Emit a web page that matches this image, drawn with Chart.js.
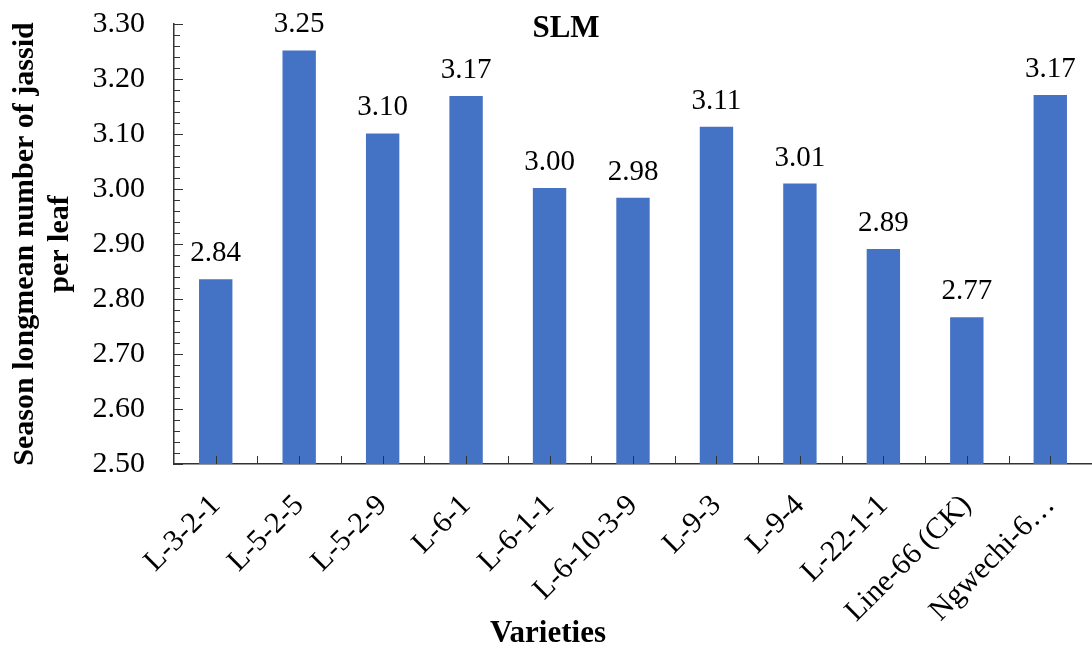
<!DOCTYPE html>
<html>
<head>
<meta charset="utf-8">
<script src="https://cdn.jsdelivr.net/npm/chart.js@4"></script>
<style>
  html, body { margin: 0; padding: 0; background: #ffffff; }
  #wrap { width: 1092px; height: 653px; position: relative; }
</style>
</head>
<body>
<div id="wrap"><canvas id="slmChart"></canvas></div>
<script>
// data
const varieties = ['L-3-2-1', 'L-5-2-5', 'L-5-2-9', 'L-6-1', 'L-6-1-1', 'L-6-10-3-9',
  'L-9-3', 'L-9-4', 'L-22-1-1', 'Line-66 (CK)', 'Ngwechi-6…'];
const jassidMeans = [2.836, 3.252, 3.101, 3.169, 3.002, 2.984, 3.113, 3.010, 2.891, 2.767, 3.171];
const yMin = 2.5;
const yMax = 3.3;
const yStep = 0.1;
const minorStep = 0.02;

const serif = "'Liberation Serif', 'Times New Roman', serif";
const axisColor = '#333333';

// value labels, SLM title, x title and inward tick marks
const extras = {
  id: 'extras',
  afterDatasetsDraw(chart) {
    const ctx = chart.ctx;
    const meta = chart.getDatasetMeta(0);
    ctx.save();
    ctx.font = '29px ' + serif;
    ctx.fillStyle = '#000';
    ctx.textAlign = 'center';
    ctx.textBaseline = 'alphabetic';
    meta.data.forEach((bar, i) => {
      ctx.fillText(jassidMeans[i].toFixed(2), bar.x, bar.y - 18);
    });
    ctx.restore();
  },
  afterDraw(chart) {
    const ctx = chart.ctx;
    const x = chart.scales.x;
    const y = chart.scales.y;
    const area = chart.chartArea;
    ctx.save();
    ctx.strokeStyle = axisColor;
    ctx.lineWidth = 1;
    ctx.beginPath();
    // y ticks, pointing into the plot
    const nMinor = Math.round((yMax - yMin) / minorStep);
    for (let i = 0; i <= nMinor; i++) {
      const v = yMin + i * minorStep;
      const py = Math.round(y.getPixelForValue(v)) + 0.5;
      const len = (i % 5 === 0) ? 9 : 6;
      ctx.moveTo(area.left, py);
      ctx.lineTo(area.left + len, py);
    }
    // x ticks at centres and between categories
    const n = varieties.length;
    for (let i = 0; i < n; i++) {
      const cx = Math.round(x.getPixelForValue(i)) + 0.5;
      ctx.moveTo(cx, area.bottom);
      ctx.lineTo(cx, area.bottom - 8);
      if (i > 0) {
        const bx = Math.round((x.getPixelForValue(i) + x.getPixelForValue(i - 1)) / 2) + 0.5;
        ctx.moveTo(bx, area.bottom);
        ctx.lineTo(bx, area.bottom - 8);
      }
    }
    ctx.stroke();

    ctx.fillStyle = '#000';
    ctx.textAlign = 'center';
    ctx.textBaseline = 'alphabetic';
    ctx.font = 'bold 31px ' + serif;
    ctx.fillText('SLM', 566, 37);
    ctx.fillText('Varieties', 548, 642);
    ctx.restore();
  }
};

const slmCanvas = document.getElementById('slmChart');

new Chart(slmCanvas, {
  type: 'bar',
  data: {
    labels: varieties,
    datasets: [{
      label: 'SLM',
      data: jassidMeans,
      backgroundColor: '#4472C4',
      borderWidth: 0,
      barPercentage: 0.4,
      categoryPercentage: 1.0
    }]
  },
  options: {
    responsive: true,
    maintainAspectRatio: false,
    animation: false,
    layout: {
      padding: 0
    },
    scales: {
      x: {
        grid: { display: false, drawTicks: false },
        border: { display: true, color: axisColor, width: 1.5 },
        ticks: {
          color: '#000',
          font: { family: serif, size: 30 },
          maxRotation: 45,
          minRotation: 45,
          autoSkip: false,
          padding: 24
        },
        afterFit(scale) {
          scale.height = 189;
          scale.paddingRight = 0;
          scale.paddingLeft = 0;
        }
      },
      y: {
        min: yMin,
        max: yMax,
        grid: { display: false, drawTicks: false },
        border: { display: true, color: axisColor, width: 1.5 },
        ticks: {
          stepSize: yStep,
          color: '#000',
          font: { family: serif, size: 30 },
          padding: 29,
          callback: (v) => Number(v).toFixed(2)
        },
        title: {
          display: true,
          text: ['Season longmean number of jassid', 'per leaf'],
          color: '#000',
          font: { family: serif, size: 30, weight: 'bold', lineHeight: 1.15 },
          padding: { top: 8, bottom: 0 }
        },
        afterFit(scale) {
          scale.width = 174;
          scale.paddingTop = 24;
          scale.paddingBottom = 0;
        }
      }
    },
    plugins: {
      legend: { display: false },
      title: { display: false },
      tooltip: { enabled: false }
    }
  },
  plugins: [extras]
});
</script>
</body>
</html>
